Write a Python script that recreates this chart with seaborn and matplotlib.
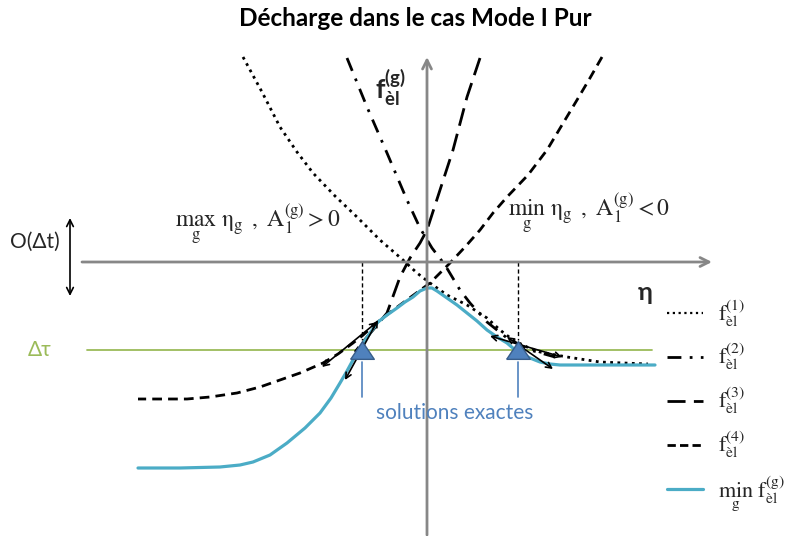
import matplotlib
matplotlib.use("Agg")
import matplotlib.pyplot as plt
import seaborn as sns
from matplotlib.lines import Line2D

eta_f1 = [-1.84, -1.65, -1.47, -1.30, -1.14, -0.92, -0.70, -0.47, -0.24, -0.10, 0.03, 0.20, 0.40, 0.60,
          0.73, 0.86, 1.00, 1.13, 1.40, 1.73, 2.21]
f_f1 = [2.05, 1.70, 1.35, 1.10, 0.89, 0.66, 0.45, 0.22, 0.02, -0.11, -0.21, -0.33, -0.43, -0.56,
        -0.68, -0.78, -0.85, -0.90, -0.95, -1.00, -1.02]

eta_f2 = [-0.80, -0.60, -0.40, -0.20, -0.07, 0.05, 0.18, 0.33, 0.43, 0.60, 0.80, 1.03, 1.28]
f_f2 = [2.04, 1.55, 1.09, 0.62, 0.34, 0.14, -0.03, -0.28, -0.41, -0.60, -0.76, -0.88, -0.95]

eta_f3 = [0.53, 0.40, 0.26, 0.13, 0.00, -0.07, -0.17, -0.27, -0.40, -0.54, -0.65, -0.72]
f_f3 = [2.04, 1.65, 1.12, 0.72, 0.32, 0.19, 0.04, -0.15, -0.51, -0.68, -0.81, -0.90]

eta_f4 = [1.75, 1.63, 1.50, 1.35, 1.20, 1.01, 0.80, 0.66, 0.53, 0.38, 0.23, 0.13, 0.03, -0.12, -0.27,
          -0.47, -0.65, -0.74, -0.89, -1.04, -1.27, -1.47, -1.67, -1.90, -2.17, -2.40, -2.89]
f_f4 = [2.05, 1.84, 1.62, 1.37, 1.12, 0.87, 0.65, 0.49, 0.32, 0.15, -0.01, -0.11, -0.21, -0.32, -0.43,
        -0.58, -0.74, -0.81, -0.92, -1.01, -1.11, -1.18, -1.25, -1.31, -1.35, -1.37, -1.37]

eta_min = [-2.89, -2.47, -2.07, -1.87, -1.74, -1.57, -1.40, -1.22, -1.07, -0.96, -0.87, -0.80, -0.74,
           -0.64, -0.57, -0.49, -0.40, -0.30, -0.22, -0.14, -0.07, 0.00, 0.05, 0.10, 0.20, 0.30, 0.40,
           0.50, 0.60, 0.70, 0.80, 0.87, 0.93, 1.03, 1.13, 1.23, 1.33, 1.73, 2.28]
f_min = [-2.06, -2.06, -2.05, -2.03, -2.00, -1.93, -1.81, -1.66, -1.51, -1.36, -1.21, -1.09, -0.98,
         -0.81, -0.71, -0.60, -0.53, -0.46, -0.40, -0.35, -0.29, -0.26, -0.26, -0.29, -0.36, -0.43, -0.51,
         -0.59, -0.68, -0.75, -0.81, -0.87, -0.91, -0.96, -1.00, -1.02, -1.03, -1.03, -1.03]

# niveau delta tau et solutions
dtau = -0.88
dtau_range = [-3.40, 2.25]
eta_sol = [-0.65, 0.91]
f_sol_top = -0.78
sol_tick = [-1.00, -1.35]

# tangentes (debut, fin)
tang_start = [(-1.05, -1.05), (-0.82, -1.18), (0.63, -0.74), (0.80, -0.75)]
tang_end = [(-0.50, -0.60), (-0.49, -0.58), (1.35, -0.95), (1.26, -1.07)]

legend_labels = [r"$\mathrm{f}_{\mathrm{èl}}^{(1)}$", r"$\mathrm{f}_{\mathrm{èl}}^{(2)}$",
                 r"$\mathrm{f}_{\mathrm{èl}}^{(3)}$", r"$\mathrm{f}_{\mathrm{èl}}^{(4)}$",
                 r"$\min_{\mathrm{g}}\ \mathrm{f}_{\mathrm{èl}}^{(\mathrm{g})}$"]

sns.set_theme(style="white")
plt.rcParams["font.family"] = ["Lato", "DejaVu Sans"]
plt.rcParams["mathtext.fontset"] = "custom"
plt.rcParams["mathtext.rm"] = "Lato"
plt.rcParams["mathtext.bf"] = "Lato:bold"
plt.rcParams["mathtext.it"] = "Lato:italic"

fig = plt.figure(figsize=(8.07, 5.36), dpi=100)
ax = fig.add_axes([0, 0, 1, 1])
ax.set_xlim(-4.27, 3.80)
ax.set_ylim(-2.74, 2.62)
ax.axis("off")

gray = "#878787"
cyan = "#4bacc6"
blue = "#4f81bd"
green = "#9bbb59"

# axes du schema
ax.annotate("", xy=(2.85, 0), xytext=(-3.45, 0),
            arrowprops=dict(arrowstyle="->", color=gray, lw=2, shrinkA=0, shrinkB=0, mutation_scale=16))
ax.annotate("", xy=(0, 2.05), xytext=(0, -2.73),
            arrowprops=dict(arrowstyle="->", color=gray, lw=2, shrinkA=0, shrinkB=0, mutation_scale=16))
ax.plot(dtau_range, [dtau, dtau], color=green, lw=1.3)

s1 = (0, (1, 1.6))
s2 = (0, (5, 3, 1, 3))
s3 = (0, (6.5, 3))
s4 = (0, (3.5, 2.2))
sns.lineplot(x=eta_f1, y=f_f1, sort=False, ax=ax, color="black", lw=2, linestyle=s1)
sns.lineplot(x=eta_f2, y=f_f2, sort=False, ax=ax, color="black", lw=2, linestyle=s2)
sns.lineplot(x=eta_f3, y=f_f3, sort=False, ax=ax, color="black", lw=2, linestyle=s3)
sns.lineplot(x=eta_f4, y=f_f4, sort=False, ax=ax, color="black", lw=2, linestyle=s4)
sns.lineplot(x=eta_min, y=f_min, sort=False, ax=ax, color=cyan, lw=2.3)

for e in eta_sol:
    ax.plot([e, e], [0, f_sol_top], color="black", lw=1, linestyle=(0, (3, 2)))
    ax.plot([e, e], sol_tick, color=blue, lw=1.2)

for a, b in zip(tang_start, tang_end):
    ax.annotate("", xy=b, xytext=a,
                arrowprops=dict(arrowstyle="<->", color="black", lw=1.2, shrinkA=0, shrinkB=0, mutation_scale=10))

tri = [(-1, -0.75), (1, -0.75), (0, 0.75), (-1, -0.75)]
ax.plot(eta_sol, [dtau, dtau], linestyle="none", marker=tri, ms=17, mfc=blue, mec="#385d8a", mew=1, zorder=5)

# textes
fig.text(415 / 807, 1 - 18 / 536, "Décharge dans le cas Mode I Pur", ha="center", va="center",
         fontsize=17.5, fontweight="bold", color="black")
ax.text(-0.52, 1.74, r"$\mathbf{f}_{\mathbf{èl}}^{\mathbf{(g)}}$", fontsize=19, va="center", ha="left")
ax.text(2.18, -0.31, "η", fontsize=18, fontweight="bold", ha="center", va="center")
ax.text(-3.92, 0.20, "O(Δt)", fontsize=15, ha="center", va="center")
ax.annotate("", xy=(-3.57, 0.44), xytext=(-3.57, -0.34),
            arrowprops=dict(arrowstyle="<->", color="black", lw=1.2, shrinkA=0, shrinkB=0, mutation_scale=12))
ax.text(-3.87, dtau, "Δτ", fontsize=15, color=green, ha="center", va="center")
ax.text(0.28, -1.51, "solutions exactes", fontsize=15, color=blue, ha="center", va="center")

t1 = ax.text(-2.52, 0.34, r"$\max_{\mathrm{g}}\ \mathrm{\eta_{g}}\ ,\ \mathrm{A_1^{(g)}} > 0$",
             fontsize=17, ha="left", va="baseline")
t1.set_math_fontfamily("stix")
t2 = ax.text(0.81, 0.45, r"$\min_{\mathrm{g}}\ \mathrm{\eta_{g}}\ ,\ \mathrm{A_1^{(g)}} < 0$",
             fontsize=17, ha="left", va="baseline")
t2.set_math_fontfamily("stix")

handles = [Line2D([], [], color="black", lw=1.6, linestyle=(0, (1, 1.6))),
           Line2D([], [], color="black", lw=2, linestyle=(0, (5, 3, 1, 3, 1, 3))),
           Line2D([], [], color="black", lw=2, linestyle=(0, (6.5, 3))),
           Line2D([], [], color="black", lw=2, linestyle=(0, (3, 1.5))),
           Line2D([], [], color=cyan, lw=2.3)]
leg = ax.legend(handles, legend_labels, loc="upper left", bbox_to_anchor=(2.40, -0.36),
                bbox_transform=ax.transData, frameon=False, fontsize=16, handlelength=1.6,
                labelspacing=0.6, handletextpad=0.7, borderaxespad=0, borderpad=0)
for t in leg.get_texts():
    t.set_math_fontfamily("stix")

fig.savefig("out.png", dpi=100)
